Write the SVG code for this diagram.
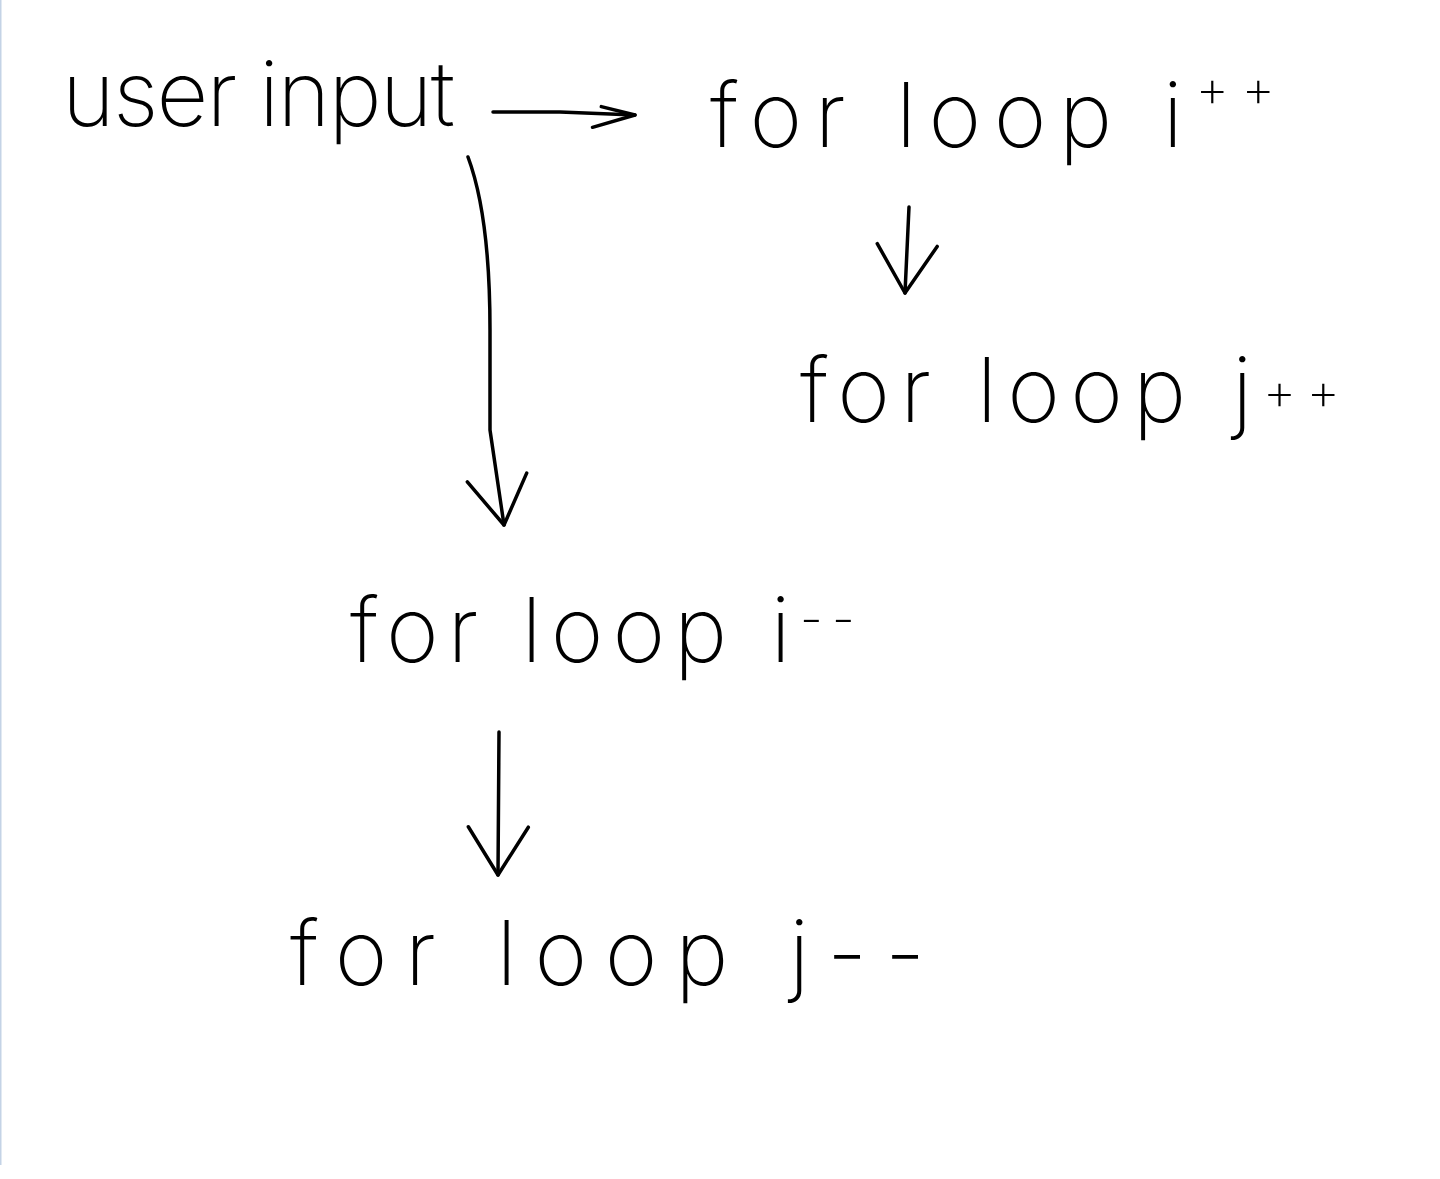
<svg xmlns="http://www.w3.org/2000/svg" width="1440" height="1179" viewBox="0 0 1440 1179">
<style>
.t{font-family:"Inter","Liberation Sans",sans-serif;font-weight:200;font-size:90px;fill:#000}
.sup{font-size:52px}
.c{fill:none;stroke:#000;stroke-width:3.5;stroke-linecap:round;stroke-linejoin:round}
</style>
<defs>
<marker id="head" markerUnits="userSpaceOnUse" markerWidth="80" markerHeight="80" viewBox="-60 -40 80 80" refX="0" refY="0" orient="auto">
<path d="M-48,-30 L0,0 L-48,30" fill="none" stroke="#000" stroke-width="3.5" stroke-linecap="round" stroke-linejoin="round"/>
</marker>
<marker id="headsm" markerUnits="userSpaceOnUse" markerWidth="60" markerHeight="60" viewBox="-50 -30 60 60" refX="0" refY="0" orient="auto">
<path d="M-34,-7 L0,0 L-42,14" fill="none" stroke="#000" stroke-width="3.5" stroke-linecap="round" stroke-linejoin="round"/>
</marker>
</defs>
<rect width="1440" height="1179" fill="#fff"/>
<line x1="0.5" y1="0" x2="0.5" y2="1165" stroke="#c4d3e6" stroke-width="2"/>
<g id="connectors">
<path class="c" d="M493,112 L560,112 L635,115" marker-end="url(#headsm)"/>
<path class="c" d="M909,207 L905,293" marker-end="url(#head)"/>
<path class="c" d="M468,157 C484,200 490,260 490,330 L490,430 L504,525" marker-end="url(#head)"/>
<path class="c" d="M499,732 L498,875" marker-end="url(#head)"/>
</g>
<g id="node-user-input"><text class="t" y="126" x="62" textLength="393" lengthAdjust="spacing">user input</text></g>
<g id="node-for-i-inc"><text class="t" x="710" y="147" textLength="565" lengthAdjust="spacing">for loop i<tspan class="sup" dy="-40">++</tspan></text></g>
<g id="node-for-j-inc"><text class="t" x="800" y="422" textLength="540" lengthAdjust="spacing">for loop j<tspan class="sup" dy="-12">++</tspan></text></g>
<g id="node-for-i-dec"><text class="t" x="350" y="662" textLength="505" lengthAdjust="spacing">for loop i<tspan class="sup" dy="-25">--</tspan></text></g>
<g id="node-for-j-dec"><text class="t" x="290" y="985" textLength="635" lengthAdjust="spacing">for loop j--</text></g>
</svg>
